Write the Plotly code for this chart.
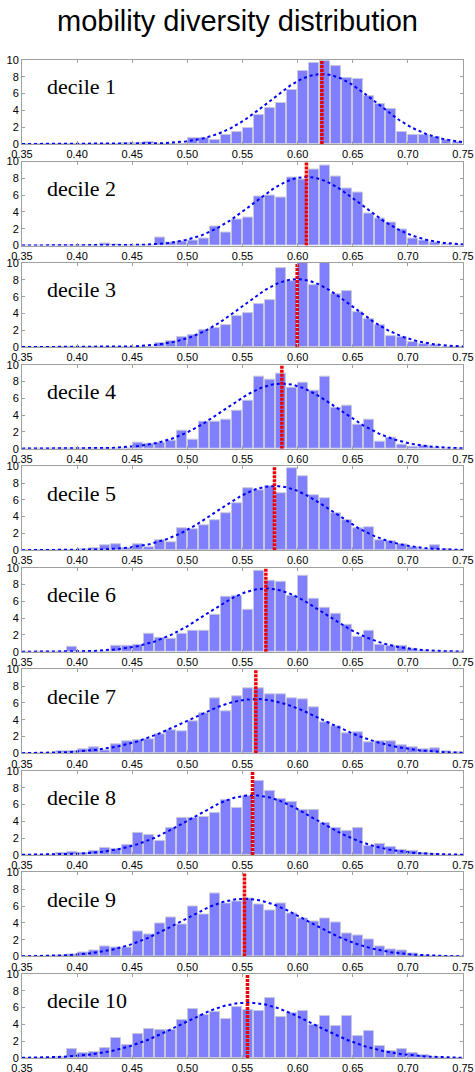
import numpy as np
import plotly.graph_objects as go
from plotly.subplots import make_subplots

# ---- data ----
bin_left = [round(0.35 + 0.01 * i, 2) for i in range(40)]
bin_width = 0.01
x_ticks = [0.35, 0.40, 0.45, 0.50, 0.55, 0.60, 0.65, 0.70, 0.75]
x_tick_labels = ["0.35", "0.40", "0.45", "0.50", "0.55", "0.60", "0.65", "0.70", "0.75"]
y_ticks = [0, 2, 4, 6, 8, 10]
panel_labels = ["decile 1", "decile 2", "decile 3", "decile 4", "decile 5",
                "decile 6", "decile 7", "decile 8", "decile 9", "decile 10"]

d1 = [0, 0, 0, 0, 0.05, 0.05, 0, 0, 0, 0.1, 0.1, 0.2, 0, 0, 0, 0.67, 0.67, 0.48, 1.07, 1.43,
      1.87, 3.41, 4.33, 4.88, 6.47, 8.69, 9.68, 9.92, 9.33, 7.86, 7.7, 5.67, 4.76, 4.13, 1.43,
      1.07, 1.07, 0.87, 0.44, 0.2]
d2 = [0, 0, 0, 0, 0, 0, 0, 0.2, 0.15, 0.05, 0, 0, 0.95, 0.36, 0.48, 0.6, 0.83, 2.26, 1.55, 3.06,
      3.33, 5.83, 5.95, 5.71, 8.06, 7.82, 9.05, 9.48, 8.17, 6.79, 6.27, 3.81, 3.25, 2.74, 1.94,
      0.83, 0.6, 0.36, 0.12, 0.05]
d3 = [0, 0, 0, 0, 0.05, 0.05, 0.05, 0, 0, 0, 0, 0, 0.48, 0.67, 1.15, 1.39, 1.98, 2.26, 2.62, 3.65,
      4.09, 5.08, 5.63, 9.4, 7.86, 10.3, 7.42, 10.3, 6.35, 6.67, 4.13, 3.33, 2.66, 1.35, 1.23,
      0.63, 0.32, 0.2, 0.05, 0.05]
d4 = [0, 0, 0, 0, 0, 0.05, 0.05, 0, 0, 0, 0.67, 0.6, 0.71, 0.91, 2.1, 1.11, 3.21, 3.21, 3.45, 4.56,
      5.71, 8.57, 8.21, 8.89, 7.22, 7.9, 6.87, 8.57, 4.88, 5.12, 2.9, 3.45, 0.83, 1.35, 0.48,
      0.2, 0.32, 0.12, 0.05, 0.05]
d5 = [0.05, 0, 0, 0, 0, 0.1, 0.2, 0.6, 0.71, 0.2, 0.71, 0.36, 1.15, 0.95, 2.58, 2.5, 2.98, 3.61, 4.4, 5.6,
      7.42, 7.18, 7.62, 6.75, 9.76, 8.81, 6.55, 6.23, 4.4, 3.61, 2.58, 2.74, 1.19, 1.07, 0.71,
      0.36, 0.12, 0.56, 0.12, 0.05]
d6 = [0, 0, 0, 0, 0.56, 0, 0, 0, 0.67, 0.75, 0.87, 2.14, 1.67, 1.51, 2.14, 2.46, 2.46, 4.37, 6.55, 6.67,
      5.0, 9.68, 8.45, 8.33, 6.71, 9.05, 6.27, 5.28, 4.56, 3.21, 1.79, 2.46, 0.79, 0.67, 0.71,
      0.36, 0.1, 0.05, 0, 0]
d7 = [0, 0, 0, 0.2, 0.28, 0.48, 0.67, 0.36, 1.07, 1.47, 1.51, 1.63, 2.26, 2.74, 2.62, 3.85, 4.72, 6.55, 5.0, 6.79,
      7.74, 7.74, 6.98, 6.98, 6.59, 6.47, 5.48, 3.73, 3.21, 2.38, 2.5, 1.31, 1.39, 1.47, 0.99,
      0.71, 0.48, 0.56, 0.2, 0.1]
d8 = [0, 0, 0, 0.2, 0.32, 0.28, 0.44, 0.87, 0.67, 1.19, 2.62, 2.42, 1.63, 3.17, 4.4, 4.37, 4.52, 4.96, 6.59, 5.56,
      7.02, 8.77, 7.58, 6.63, 6.27, 5.4, 5.36, 3.77, 3.21, 2.9, 3.21, 1.07, 1.31, 0.91, 0.6,
      0.44, 0.2, 0.1, 0, 0]
d9 = [0, 0, 0, 0.1, 0.28, 0.52, 0.71, 1.23, 1.03, 1.03, 2.94, 2.66, 3.89, 4.6, 3.77, 5.91, 5.04, 7.46, 6.31, 6.51,
      6.9, 6.19, 5.44, 6.31, 5.08, 4.52, 4.21, 4.52, 4.05, 2.74, 2.5, 1.98, 1.19, 0.87, 0.75,
      0.32, 0.1, 0, 0, 0]
d10 = [0, 0, 0.05, 0.1, 1.03, 0.63, 0.67, 1.19, 2.34, 1.55, 2.86, 3.41, 3.29, 3.33, 4.48, 5.79, 5.12, 5.44, 4.64, 6.07,
       5.75, 5.56, 7.1, 4.88, 5.36, 5.56, 3.89, 5.0, 3.77, 5.0, 2.66, 3.21, 1.43, 0.79, 1.03,
       0.56, 0.32, 0.1, 0, 0]

fit_mean = [0.622, 0.608, 0.5996, 0.5857, 0.579, 0.5712, 0.5621, 0.5591, 0.5518, 0.5545]
fit_sd = [0.0479, 0.0488, 0.0493, 0.0515, 0.0521, 0.0529, 0.0617, 0.0562, 0.0581, 0.0605]

deciles = [d1, d2, d3, d4, d5, d6, d7, d8, d9, d10]

# ---- figure ----
W, H = 475, 1072
panel_h, gap = 84, 17.6
TOP, LEFT, RIGHT = 60, 22, 12
plot_h = 10 * panel_h + 9 * gap
BOT = H - TOP - plot_h

fig = make_subplots(rows=10, cols=1, vertical_spacing=gap / plot_h)

centers = [b + bin_width / 2 for b in bin_left]
xs = np.linspace(0.35, 0.75, 300)

for k in range(10):
    r = k + 1
    fig.add_trace(go.Bar(
        x=centers, y=deciles[k], width=bin_width * 0.9,
        marker=dict(color="rgba(0,0,255,0.5)", line=dict(color="rgba(200,200,220,1)", width=1)),
        showlegend=False, hoverinfo="x+y"), row=r, col=1)
    mu, sd = fit_mean[k], fit_sd[k]
    pdf = np.exp(-0.5 * ((xs - mu) / sd) ** 2) / (sd * np.sqrt(2 * np.pi))
    fig.add_trace(go.Scatter(
        x=xs, y=pdf, mode="lines",
        line=dict(color="#0000ff", width=2, dash="dot"),
        showlegend=False, hoverinfo="skip"), row=r, col=1)
    fig.add_trace(go.Scatter(
        x=[mu, mu], y=[0, 10], mode="lines",
        line=dict(color="#ee0000", width=3.5, dash="3px,1px"),
        showlegend=False, hoverinfo="skip"), row=r, col=1)
    suffix = "" if r == 1 else str(r)
    fig.add_annotation(
        x=0.371, y=6.8, xref="x" + suffix, yref="y" + suffix,
        text=panel_labels[k], showarrow=False, xanchor="left", yanchor="middle",
        font=dict(family="Liberation Serif, DejaVu Serif, serif", size=22, color="black"))

fig.update_xaxes(
    range=[0.35, 0.75], tickvals=x_ticks, ticktext=x_tick_labels,
    showline=True, linecolor="#a0a0a0", linewidth=1, mirror="ticks",
    ticks="inside", ticklen=3, tickcolor="#a0a0a0",
    showgrid=False, zeroline=False, automargin=False,
    tickfont=dict(family="Liberation Sans, Arial, sans-serif", size=11, color="black"))
fig.update_yaxes(
    range=[0, 10], tickvals=y_ticks,
    showline=True, linecolor="#a0a0a0", linewidth=1, mirror="ticks",
    ticks="inside", ticklen=3, tickcolor="#a0a0a0",
    showgrid=False, zeroline=False, automargin=False,
    tickfont=dict(family="Liberation Sans, Arial, sans-serif", size=11, color="black"))

fig.update_layout(
    width=W, height=H,
    margin=dict(l=LEFT, r=RIGHT, t=TOP, b=BOT),
    paper_bgcolor="white", plot_bgcolor="white",
    bargap=0, barmode="overlay",
    title=dict(text="mobility diversity distribution", x=0.5, xanchor="center",
               y=1 - 21 / H, yanchor="middle", yref="container",
               font=dict(family="Liberation Sans, Arial, sans-serif", size=29, color="black")),
)

fig.write_html(
    "out.html",
    config={"displayModeBar": False},
    post_script="document.body.style.margin='0';document.body.style.overflow='hidden';",
)
